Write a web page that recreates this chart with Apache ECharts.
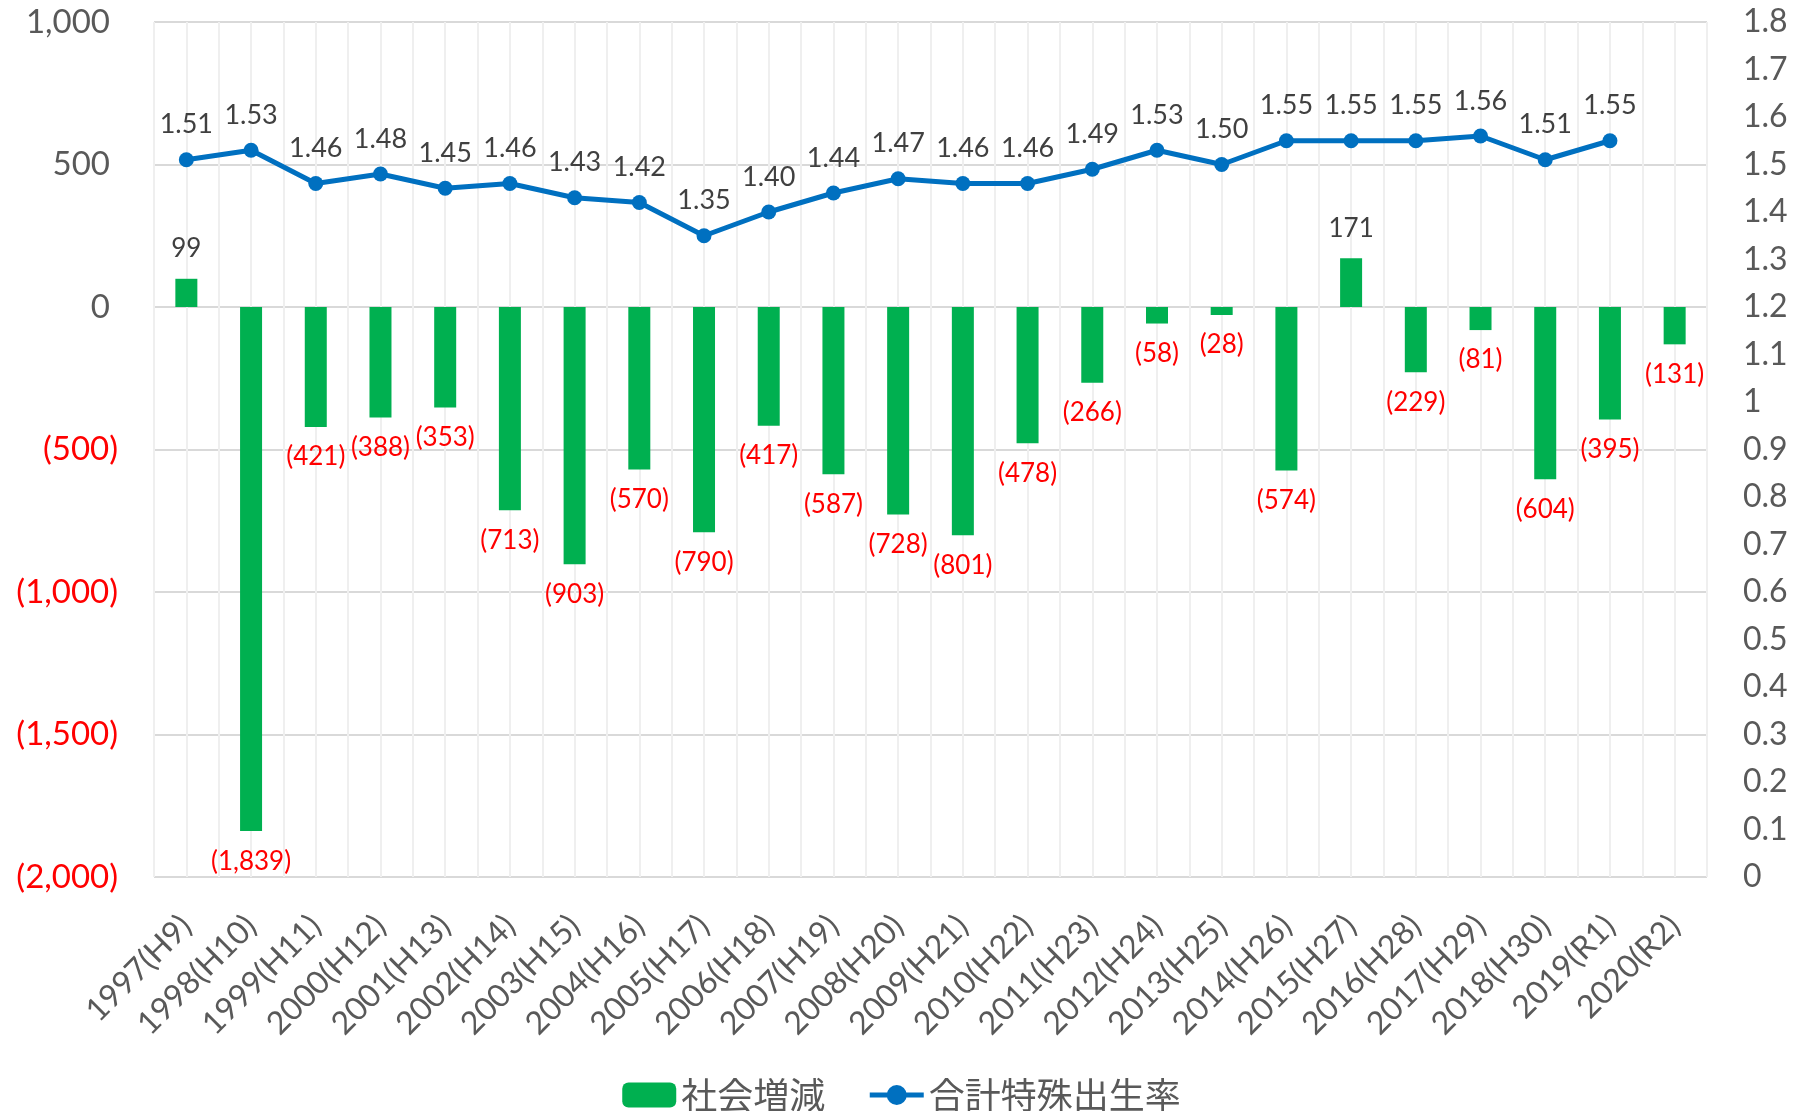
<!DOCTYPE html>
<html>
<head>
<meta charset="utf-8">
<script src="https://cdn.jsdelivr.net/npm/echarts@6/dist/echarts.min.js"></script>
<style>
  html, body { margin: 0; padding: 0; background: #fff; }
  #chart { width: 1803px; height: 1111px; }
</style>
</head>
<body>
<div id="chart"></div>
<script>
const years = [
  '1997(H9)', '1998(H10)', '1999(H11)', '2000(H12)', '2001(H13)', '2002(H14)',
  '2003(H15)', '2004(H16)', '2005(H17)', '2006(H18)', '2007(H19)', '2008(H20)',
  '2009(H21)', '2010(H22)', '2011(H23)', '2012(H24)', '2013(H25)', '2014(H26)',
  '2015(H27)', '2016(H28)', '2017(H29)', '2018(H30)', '2019(R1)', '2020(R2)',
]
const socialChange = [
  99, -1839, -421, -388, -353, -713, -903, -570, -790, -417, -587, -728,
  -801, -478, -266, -58, -28, -574, 171, -229, -81, -604, -395, -131,
]
const fertilityRate = [
  1.51, 1.53, 1.46, 1.48, 1.45, 1.46, 1.43, 1.42, 1.35, 1.40, 1.44, 1.47,
  1.46, 1.46, 1.49, 1.53, 1.50, 1.55, 1.55, 1.55, 1.56, 1.51, 1.55, null,
]
const seriesNames = ['社会増減', '合計特殊出生率']

const FONT = 'Lato, "Noto Sans CJK JP", sans-serif'
const GREY = '#595959'
const DARK = '#404040'
const RED = '#FF0000'

const fmtNum = (v) => Math.abs(v).toLocaleString('en-US')

// half-category gridlines (Excel major + minor vertical lines)
const halfCats = new Array(years.length * 2).fill('')

const chart = echarts.init(document.getElementById('chart'))

chart.setOption({
  animation: false,
  textStyle: { fontFamily: FONT },
  grid: { left: 154, right: 96, top: 22, bottom: 234, containLabel: false },
  legend: {
    data: seriesNames,
    left: 'center',
    top: 1072,
    itemWidth: 54,
    itemHeight: 25,
    itemGap: 42,
    lineStyle: { width: 5 },
    textStyle: { fontSize: 36, color: GREY, fontFamily: '"Noto Sans CJK JP", sans-serif' },
  },
  xAxis: [
    {
      type: 'category',
      data: years,
      boundaryGap: true,
      axisLine: { show: false, onZero: false },
      axisTick: { show: false },
      splitLine: { show: false },
      axisLabel: {
        rotate: 45,
        interval: 0,
        margin: 44,
        fontSize: 32,
        color: GREY,
        fontFamily: FONT,
      },
    },
    {
      type: 'category',
      data: halfCats,
      boundaryGap: true,
      position: 'bottom',
      axisLine: { show: false, onZero: false },
      axisTick: { show: false },
      axisLabel: { show: false },
      splitLine: { show: true, lineStyle: { color: '#EFEFEF', width: 2 } },
    },
  ],
  yAxis: [
    {
      type: 'value',
      min: -2000,
      max: 1000,
      interval: 500,
      axisLine: { show: false },
      axisTick: { show: false },
      splitLine: { lineStyle: { color: '#D9D9D9', width: 2 } },
      axisLabel: {
        margin: 36,
        fontSize: 33,
        fontFamily: FONT,
        formatter: (v) => v < 0 ? `{neg|(${fmtNum(v)})}` : `{pos|${fmtNum(v)}}`,
        rich: {
          pos: { fontSize: 33, color: GREY, fontFamily: FONT, padding: [0, 8, 0, 0] },
          neg: { fontSize: 33, color: RED, fontFamily: FONT },
        },
      },
    },
    {
      type: 'value',
      position: 'right',
      min: 0,
      max: 1.8,
      interval: 0.1,
      axisLine: { show: false },
      axisTick: { show: false },
      splitLine: { show: false },
      axisLabel: {
        margin: 36,
        fontSize: 32,
        color: GREY,
        fontFamily: FONT,
        formatter: (v) => String(Number(v.toFixed(1))),
      },
    },
  ],
  series: [
    {
      name: seriesNames[0],
      type: 'bar',
      xAxisIndex: 0,
      yAxisIndex: 0,
      barWidth: 22,
      itemStyle: { color: '#00B050' },
      data: socialChange.map(v => ({
        value: v,
        label: { color: v < 0 ? RED : DARK },
      })),
      label: {
        show: true,
        position: 'outside',
        distance: 17,
        fontSize: 26,
        fontFamily: FONT,
        formatter: (p) => p.value < 0 ? `(${fmtNum(p.value)})` : fmtNum(p.value),
      },
      z: 2,
    },
    {
      name: seriesNames[1],
      type: 'line',
      xAxisIndex: 0,
      yAxisIndex: 1,
      data: fertilityRate,
      symbol: 'circle',
      symbolSize: 15,
      lineStyle: { color: '#0070C0', width: 5 },
      itemStyle: { color: '#0070C0' },
      label: {
        show: true,
        position: 'top',
        distance: 14,
        fontSize: 27,
        color: DARK,
        fontFamily: FONT,
        formatter: (p) => p.value == null ? '' : p.value.toFixed(2),
      },
      z: 3,
    },
  ],
})
</script>
</body>
</html>
